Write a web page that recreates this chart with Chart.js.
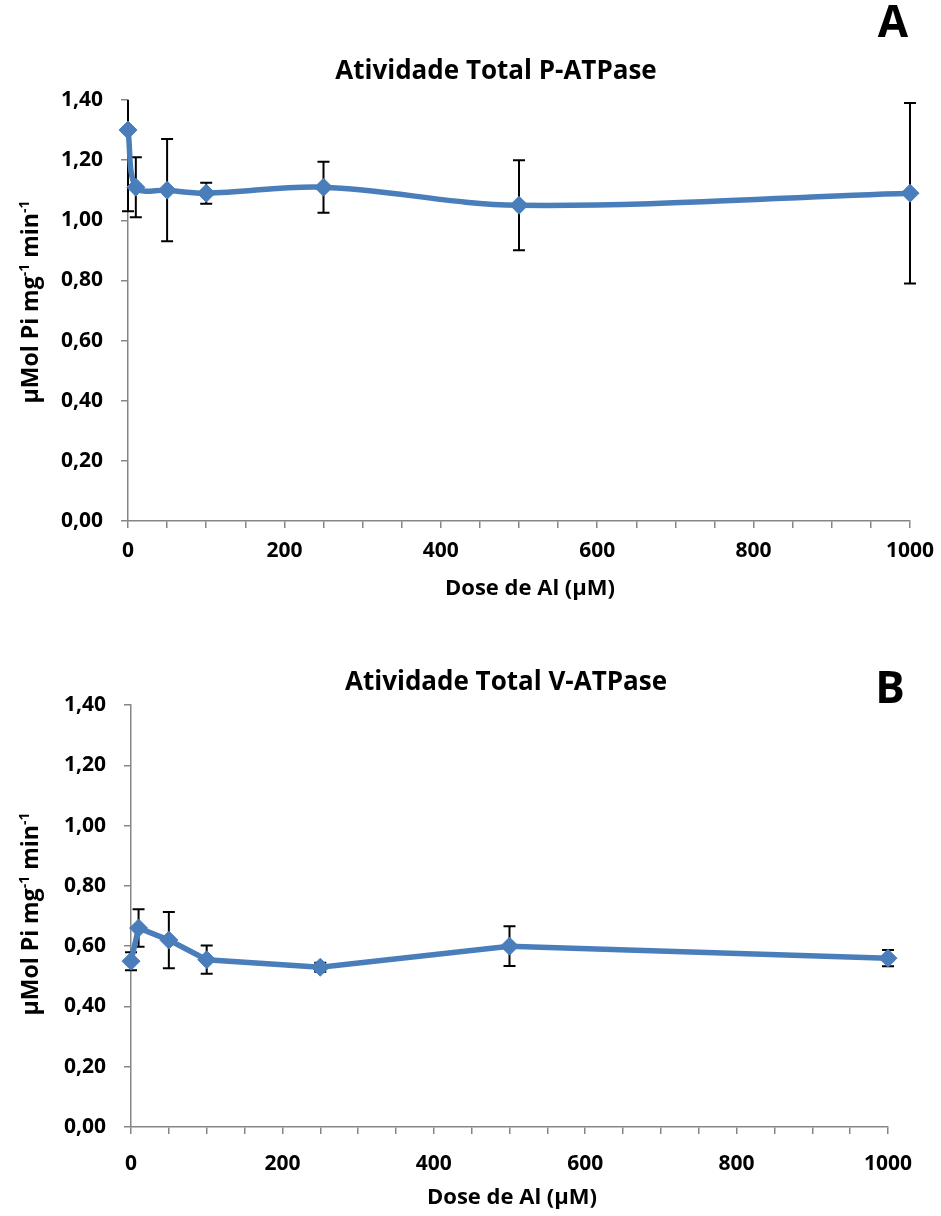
<!DOCTYPE html>
<html>
<head>
<meta charset="utf-8">
<script src="https://cdn.jsdelivr.net/npm/chart.js@4.4.0/dist/chart.umd.min.js"></script>
<style>
  html, body { margin: 0; padding: 0; background: #fff; }
  .box { width: 941px; height: 608px; }
</style>
</head>
<body>
<div class="box"><canvas id="chartA" width="941" height="608"></canvas></div>
<div class="box"><canvas id="chartB" width="941" height="608"></canvas></div>
<script>
// Al doses (µM)
const doses = [0, 10, 50, 100, 250, 500, 1000];

// total P-ATPase activity, with error bars
const pAtpase = [1.30, 1.11, 1.10, 1.09, 1.11, 1.05, 1.09];
const pAtpaseErr = [0.27, 0.10, 0.17, 0.035, 0.085, 0.15, 0.30];

// total V-ATPase activity, with error bars
const vAtpase = [0.55, 0.66, 0.62, 0.555, 0.53, 0.60, 0.56];
const vAtpaseErr = [0.03, 0.062, 0.093, 0.047, 0.015, 0.066, 0.027];

const xTickLabels = [0, 200, 400, 600, 800, 1000];
const yTicks = [0, 0.2, 0.4, 0.6, 0.8, 1.0, 1.2, 1.4];

const FONT = '"Open Sans", Lato, sans-serif';
const BLUE = '#4a7ebb';
const AXIS = '#868686';

const errorBars = {
    id: 'errorBars',
    beforeDatasetsDraw(chart, args, opts) {
        const { ctx, chartArea, scales } = chart;
        const pts = chart.data.datasets[0].data;
        ctx.save();
        ctx.beginPath();
        ctx.rect(chartArea.left - 20, chartArea.top, chartArea.width + 40, chartArea.height);
        ctx.clip();
        ctx.strokeStyle = '#000';
        ctx.lineWidth = 2;
        pts.forEach((p, i) => {
            const e = opts.errors[i];
            const px = scales.x.getPixelForValue(p.x);
            const top = scales.y.getPixelForValue(p.y + e);
            const bot = scales.y.getPixelForValue(p.y - e);
            ctx.beginPath();
            ctx.moveTo(px, top); ctx.lineTo(px, bot);
            ctx.moveTo(px - 6, top); ctx.lineTo(px + 6, top);
            ctx.moveTo(px - 6, bot); ctx.lineTo(px + 6, bot);
            ctx.stroke();
        });
        ctx.restore();
    }
};

const panelText = {
    id: 'panelText',
    afterDraw(chart, args, o) {
        const ctx = chart.ctx;
        const ca = chart.chartArea;
        ctx.save();
        ctx.fillStyle = '#000';
        ctx.textAlign = 'center';
        ctx.textBaseline = 'middle';
        ctx.font = 'bold 26px ' + FONT;
        ctx.fillText(o.title, o.titleX, o.titleY);
        ctx.font = 'bold 44px ' + FONT;
        ctx.fillText(o.letter, o.letterX, o.letterY);
        ctx.font = 'bold 22px ' + FONT;
        ctx.fillText('Dose de Al (µM)', o.xTitleX, o.xTitleY);

        // y title with superscripts
        const parts = [['µMol Pi mg', false], ['-1', true], [' min', false], ['-1', true]];
        const big = 'bold 23px ' + FONT, small = 'bold 14px ' + FONT;
        let total = 0;
        parts.forEach(([t, sup]) => { ctx.font = sup ? small : big; total += ctx.measureText(t).width; });
        ctx.translate(o.yTitleX, o.yTitleY);
        ctx.rotate(-Math.PI / 2);
        ctx.textAlign = 'left';
        ctx.textBaseline = 'alphabetic';
        let cx = -total / 2;
        parts.forEach(([t, sup]) => {
            ctx.font = sup ? small : big;
            ctx.fillText(t, cx, sup ? -1 : 8);
            cx += ctx.measureText(t).width;
        });
        ctx.restore();
    }
};

function makeChart(id, vals, errs, cfg) {
    return new Chart(document.getElementById(id), {
        type: 'line',
        data: {
            datasets: [{
                data: doses.map((d, i) => ({ x: d, y: vals[i] })),
                borderColor: BLUE,
                backgroundColor: BLUE,
                borderWidth: 5.5,
                pointStyle: 'rectRot',
                pointRadius: 9,
                pointBorderWidth: 1,
                pointBackgroundColor: BLUE,
                tension: cfg.tension,
                clip: 12
            }]
        },
        options: {
            responsive: false,
            animation: false,
            devicePixelRatio: 1,
            layout: { padding: { top: cfg.top, right: cfg.right, left: 0, bottom: 0 } },
            plugins: {
                legend: { display: false },
                tooltip: { enabled: false },
                errorBars: { errors: errs },
                panelText: cfg.text
            },
            scales: {
                x: {
                    type: 'linear',
                    min: 0,
                    max: 1000,
                    afterFit: s => { s.height = cfg.xHeight; s.paddingLeft = 0; s.paddingRight = 0; },
                    ticks: {
                        stepSize: 50,
                        autoSkip: false,
                        maxRotation: 0,
                        padding: cfg.xPad,
                        color: '#000',
                        font: { family: FONT, size: 21, weight: 'bold' },
                        callback: v => xTickLabels.includes(v) ? String(v) : ''
                    },
                    grid: { drawOnChartArea: false, tickLength: 7, color: AXIS, lineWidth: 1.5 },
                    border: { color: AXIS, width: 1.5 }
                },
                y: {
                    min: 0,
                    max: 1.4,
                    afterFit: s => { s.width = cfg.left; },
                    afterBuildTicks: s => { s.ticks = yTicks.map(v => ({ value: v })); },
                    ticks: {
                        padding: 18,
                        color: '#000',
                        font: { family: FONT, size: 21, weight: 'bold' },
                        callback: v => v.toFixed(2).replace('.', ',')
                    },
                    grid: { drawOnChartArea: false, tickLength: 7, color: AXIS, lineWidth: 1.5 },
                    border: { color: AXIS, width: 1.5 }
                }
            }
        },
        plugins: [errorBars, panelText]
    });
}

makeChart('chartA', pAtpase, pAtpaseErr, {
    tension: 0.35, top: 100, right: 31, left: 128, xHeight: 87, xPad: 10,
    text: {
        title: 'Atividade Total P-ATPase', titleX: 496, titleY: 72,
        letter: 'A', letterX: 893, letterY: 24,
        xTitleX: 530, xTitleY: 589, yTitleX: 30, yTitleY: 302
    }
});

makeChart('chartB', vAtpase, vAtpaseErr, {
    tension: 0, top: 97, right: 53, left: 131, xHeight: 89, xPad: 17,
    text: {
        title: 'Atividade Total V-ATPase', titleX: 506, titleY: 75,
        letter: 'B', letterX: 890, letterY: 82,
        xTitleX: 512, xTitleY: 590, yTitleX: 30, yTitleY: 306
    }
});
</script>
</body>
</html>
